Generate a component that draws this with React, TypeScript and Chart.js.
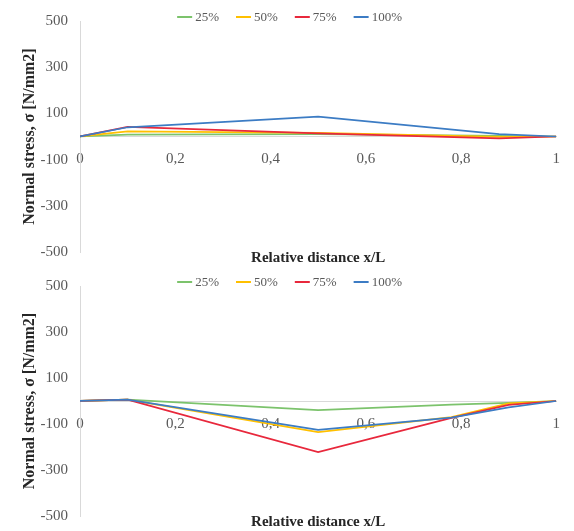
import React, { useEffect, useRef } from "react";
import { Chart, registerables } from "chart.js";

Chart.register(...registerables);

// ---- data ----
const seriesLabels = ["25%", "50%", "75%", "100%"];
const seriesColors = ["#7cc36c", "#ffc000", "#e8283c", "#3c7cc4"];
const yTickValues = [-500, -300, -100, 100, 300, 500];
const xTickValues = [0, 0.2, 0.4, 0.6, 0.8, 1];

// upper chart
const topX = [0, 0.1, 0.5, 0.88, 1];
const top25 = [0, 8, 10, 3, 0];
const top50 = [0, 22, 16, -2, 0];
const top75 = [0, 42, 14, -8, 0];
const top100 = [0, 40, 86, 10, 0];

// lower chart
const bottomX = [0, 0.1, 0.5, 0.78, 0.9, 1];
const bottom25 = [0, 6, -40, -16, -8, 0];
const bottom50 = [0, 6, -135, -70, -10, 0];
const bottom75 = [0, 6, -222, -73, -17, 0];
const bottom100 = [0, 6, -125, -72, -28, 0];

const xTitle = "Relative distance x/L";
const yTitle = "Normal stress, σ [N/mm2]";

const FONT = "'Liberation Serif', 'Times New Roman', serif";
const TICK_COLOR = "#595959";
const TITLE_COLOR = "#262626";
const AXIS_COLOR = "#d9d9d9";

const overlayPlugin = {
  id: "overlay",
  afterDraw(chart: any) {
    const { ctx, chartArea } = chart;
    ctx.save();
    // legend
    ctx.font = `13px ${FONT}`;
    const lineLen = 15;
    const gapLine = 3;
    const gapItem = 17;
    const widths = seriesLabels.map((l) => ctx.measureText(l).width);
    const total =
      widths.reduce((a, w) => a + lineLen + gapLine + w, 0) + gapItem * (seriesLabels.length - 1);
    const cx = chartArea.left + 0.44 * (chartArea.right - chartArea.left);
    let x = cx - total / 2;
    const y = chartArea.top - 4;
    ctx.textBaseline = "middle";
    ctx.textAlign = "left";
    seriesLabels.forEach((label, i) => {
      ctx.strokeStyle = seriesColors[i];
      ctx.lineWidth = 2;
      ctx.beginPath();
      ctx.moveTo(x, y);
      ctx.lineTo(x + lineLen, y);
      ctx.stroke();
      x += lineLen + gapLine;
      ctx.fillStyle = TICK_COLOR;
      ctx.fillText(label, x, y + 1);
      x += widths[i] + gapItem;
    });
    // x title
    ctx.font = `bold 15px ${FONT}`;
    ctx.fillStyle = TITLE_COLOR;
    ctx.textAlign = "center";
    ctx.fillText(xTitle, (chartArea.left + chartArea.right) / 2, chartArea.bottom + 6);
    ctx.restore();
  },
};

function makeConfig(xs: number[], ys: number[][]) {
  return {
    type: "line" as const,
    data: {
      datasets: ys.map((vals, i) => ({
        label: seriesLabels[i],
        data: xs.map((x, j) => ({ x, y: vals[j] })),
        borderColor: seriesColors[i],
        backgroundColor: seriesColors[i],
        borderWidth: 1.75,
        pointRadius: 0,
        tension: 0,
        fill: false,
        order: ys.length - i,
      })),
    },
    options: {
      responsive: false,
      animation: false,
      devicePixelRatio: 1,
      layout: { padding: { top: 19, bottom: 14, left: 0, right: 8 } },
      plugins: { legend: { display: false }, tooltip: { enabled: false } },
      scales: {
        x: {
          type: "linear",
          min: 0,
          max: 1,
          position: { y: 0 },
          afterBuildTicks: (axis: any) => {
            axis.ticks = xTickValues.map((v) => ({ value: v }));
          },
          ticks: {
            callback: (v: any) => String(v).replace(".", ","),
            font: { family: FONT, size: 15 },
            color: TICK_COLOR,
            padding: 14,
            maxRotation: 0,
            autoSkip: false,
          },
          grid: { display: false, drawTicks: false },
          border: { display: true, color: AXIS_COLOR, width: 1 },
        },
        y: {
          type: "linear",
          min: -500,
          max: 500,
          afterBuildTicks: (axis: any) => {
            axis.ticks = yTickValues.map((v) => ({ value: v }));
          },
          afterFit: (scale: any) => {
            scale.width = 80;
          },
          ticks: {
            font: { family: FONT, size: 15 },
            color: TICK_COLOR,
            padding: 12,
          },
          grid: { display: false, drawTicks: false },
          border: { display: true, color: AXIS_COLOR, width: 1 },
          title: {
            display: true,
            text: yTitle,
            font: { family: FONT, size: 16, weight: "bold" },
            color: TITLE_COLOR,
            padding: { top: 20, bottom: 0 },
          },
        },
      },
    },
    plugins: [overlayPlugin],
  };
}

function ChartCanvas({
  xs,
  ys,
  top,
  height,
}: {
  xs: number[];
  ys: number[][];
  top: number;
  height: number;
}) {
  const ref = useRef<HTMLCanvasElement | null>(null);
  useEffect(() => {
    if (!ref.current) return;
    const chart = new Chart(ref.current, makeConfig(xs, ys) as any);
    return () => chart.destroy();
  }, []);
  return (
    <canvas
      ref={ref}
      width={574}
      height={height}
      style={{ position: "absolute", left: 0, top, display: "block", width: 574, height }}
    />
  );
}

export default function App() {
  return (
    <div
      style={{
        position: "fixed",
        left: 0,
        top: 0,
        width: 574,
        height: 531,
        overflow: "hidden",
        background: "#ffffff",
      }}
    >
      <ChartCanvas xs={topX} ys={[top25, top50, top75, top100]} top={0} height={273} />
      <ChartCanvas xs={bottomX} ys={[bottom25, bottom50, bottom75, bottom100]} top={265} height={272} />
    </div>
  );
}
